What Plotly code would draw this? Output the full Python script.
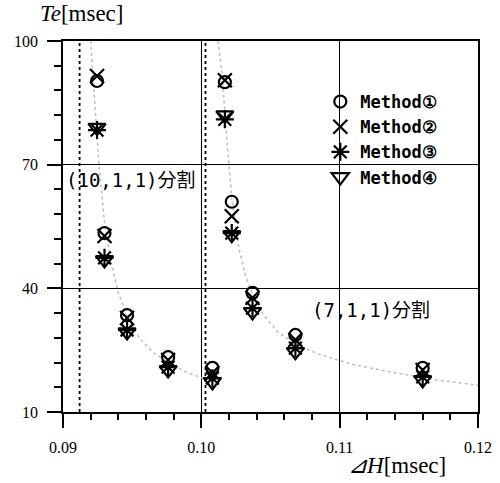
import plotly.graph_objects as go

# Data
dh = [0.09246, 0.0930, 0.09463, 0.0976, 0.1008,
      0.1017, 0.1022, 0.1037, 0.1068, 0.1160]
method1 = [90.3, 53.4, 33.5, 23.3, 20.7, 90.0, 61.0, 38.9, 28.7, 20.7]
method2 = [91.5, 52.7, 32.8, 22.6, 19.5, 90.5, 57.5, 37.7, 27.5, 20.2]
method3 = [78.4, 47.4, 29.9, 20.9, 18.2, 81.0, 53.4, 35.2, 25.5, 18.5]
method4 = [79.0, 46.9, 29.4, 20.2, 17.3, 82.0, 53.0, 34.3, 24.6, 17.8]
names = ["Method①", "Method②", "Method③", "Method④"]

# Theoretical (grey dotted) curves
curve1_x = [0.0920, 0.0923, 0.0926, 0.0930, 0.0935, 0.0940, 0.0946, 0.0955, 0.0965, 0.0976, 0.0990, 0.1003]
curve1_y = [100, 84, 70, 56, 46, 39, 33.5, 28, 24.5, 22, 19.5, 18]
curve2_x = [0.1012, 0.1015, 0.1018, 0.1022, 0.1027, 0.1032, 0.1037, 0.1045, 0.1055, 0.1068, 0.1085, 0.1110, 0.1140, 0.1170, 0.1200]
curve2_y = [100, 92, 78, 62, 50, 43, 38.5, 33.5, 29.5, 26.5, 24, 21.5, 19.5, 17.8, 16.5]

asymptotes = [0.0912, 0.1003]

fig = go.Figure()
fig.add_trace(go.Scatter(x=curve1_x, y=curve1_y, mode="lines", showlegend=False,
                         line=dict(color="#bdbdbd", width=1.5, dash="dot")))
fig.add_trace(go.Scatter(x=curve2_x, y=curve2_y, mode="lines", showlegend=False,
                         line=dict(color="#bdbdbd", width=1.5, dash="dot")))

symbols = ["circle-open", "x-thin-open", "asterisk-open", "triangle-down-open"]
sizes = [12, 14, 15, 15]
for name, vals, sym, sz in zip(names, [method1, method2, method3, method4], symbols, sizes):
    fig.add_trace(go.Scatter(x=dh, y=vals, mode="markers", name=name,
                             marker=dict(symbol=sym, size=sz, color="black",
                                         line=dict(color="black", width=2.2))))

for a in asymptotes:
    fig.add_shape(type="line", x0=a, x1=a, y0=10, y1=100, xref="x", yref="y",
                  line=dict(color="black", width=1.8, dash="dot"))

label_font = dict(family="DejaVu Sans Mono, Noto Sans CJK JP", size=19, color="black")
fig.add_annotation(x=0.0901, y=66.3, xref="x", yref="y", text="(10,1,1)分割",
                   showarrow=False, xanchor="left", yanchor="middle", font=label_font)
fig.add_annotation(x=0.1123, y=34.7, xref="x", yref="y", text="(7,1,1)分割",
                   showarrow=False, xanchor="center", yanchor="middle", font=label_font)

fig.add_annotation(x=-0.06, y=1.073, xref="paper", yref="paper",
                   xanchor="left", yanchor="middle",
                   text="<i>Te</i>[msec]", showarrow=False,
                   font=dict(family="Liberation Serif", size=23, color="black"))
fig.add_annotation(x=0.805, y=-0.143, xref="paper", yref="paper",
                   xanchor="center", yanchor="middle",
                   text="<i>⊿H</i>[msec]", showarrow=False,
                   font=dict(family="Liberation Serif", size=23, color="black"))

axis_common = dict(showline=True, linecolor="black", linewidth=1.5, mirror=True,
                   showgrid=True, gridcolor="black", gridwidth=1,
                   ticks="outside", ticklen=14, tickwidth=1.5, tickcolor="black",
                   tickfont=dict(family="Liberation Serif", size=16, color="black"),
                   zeroline=False, tickmode="linear", automargin=False)

fig.update_xaxes(range=[0.09, 0.12], tick0=0.09, dtick=0.01, tickformat=".2f",
                 minor=dict(dtick=0.002, ticks="outside", ticklen=6, tickcolor="black", showgrid=False),
                 ticklabelstandoff=6, **axis_common)
fig.update_yaxes(range=[10, 100], tick0=10, dtick=30,
                 minor=dict(dtick=6, tick0=10, ticks="outside", ticklen=7, tickcolor="black", showgrid=False),
                 ticklabelstandoff=6, **axis_common)

fig.update_layout(
    width=500, height=483,
    margin=dict(l=63, r=22, t=41, b=71),
    plot_bgcolor="white", paper_bgcolor="white",
    legend=dict(x=0.62, y=0.884, xanchor="left", yanchor="top",
                bgcolor="rgba(0,0,0,0)",
                font=dict(family="DejaVu Sans Mono", size=17, color="black", weight="bold"),
                itemwidth=30, tracegroupgap=0),
)

fig.write_html("out.html", config={"displayModeBar": False},
               post_script="document.body.style.margin='0px';document.body.style.overflow='hidden';")
